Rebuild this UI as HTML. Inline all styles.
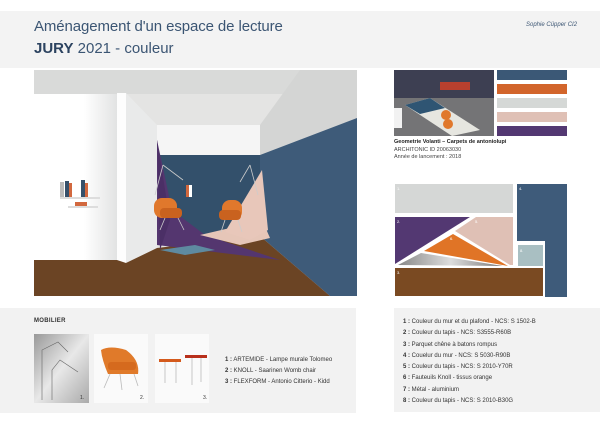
<!DOCTYPE html>
<html><head><meta charset="utf-8"><style>
html,body{margin:0;padding:0;background:#fff}
body{width:600px;height:424px;position:relative;overflow:hidden;font-family:"Liberation Sans",sans-serif}
.a{position:absolute}
</style></head><body>
<div class="a" style="left:0;top:11px;width:600px;height:57px;background:#f3f3f3"></div>
<div class="a" style="left:34px;top:18px;font-size:15px;color:#3b5573;white-space:nowrap;letter-spacing:-0.1px">Aménagement d'un espace de lecture</div>
<div class="a" style="left:34px;top:40px;font-size:15px;color:#3b5573;white-space:nowrap"><b style="color:#2c4360">JURY</b> 2021 - couleur</div>
<div class="a" style="left:526px;top:22px;font-size:6px;font-style:italic;color:#3b5573">Sophie Cüpper CI2</div>

<svg class="a" style="left:0;top:0" width="600" height="424">
<!-- render -->
<rect x="34" y="70" width="323" height="226" fill="#e4e4e3"/>
<rect x="34" y="70" width="323" height="24" fill="#d9dad9"/>
<polygon points="300,70 357,70 357,118 260,155 260,125" fill="#d4d5d4"/>
<defs><linearGradient id="w" x1="0" x2="1"><stop offset="0.6" stop-color="#fff"/><stop offset="1" stop-color="#e2e3e3"/></linearGradient>
<linearGradient id="m" x1="0" x2="1"><stop offset="0" stop-color="#888"/><stop offset="0.5" stop-color="#ddd"/><stop offset="1" stop-color="#777"/></linearGradient>
<linearGradient id="l" x1="0" y1="0" x2="1" y2="1"><stop offset="0" stop-color="#999"/><stop offset="0.5" stop-color="#e8e8e8"/><stop offset="1" stop-color="#aaa"/></linearGradient></defs>
<rect x="34" y="94" width="83" height="166" fill="url(#w)"/>
<polygon points="126,93 157,125 157,260 126,262" fill="#e9eaea"/>
<rect x="117" y="93" width="9" height="170" fill="#fdfdfd"/>
<rect x="157" y="125" width="103" height="30" fill="#f5f5f5"/>
<rect x="157" y="155" width="103" height="90" fill="#33506b"/>
<polygon points="260,155 357,118 357,296 330,296 260,236" fill="#3e5b79"/>
<polygon points="34,260 117,260 126,263 157,248 260,236 330,296 34,296" fill="#6b4424"/>
<polygon points="157,140 172,210 205,235 280,260 157,245" fill="#54366f"/>
<polygon points="200,235 230,228 260,215 270,238 240,245" fill="#e6c6b8"/>
<polygon points="262,170 268,230 250,240 225,232" fill="#e8c7ba"/>
<polygon points="160,250 195,245 215,250 185,255" fill="#5e8aa0"/>
<path d="M157,140 L170,220 L160,250 Z" fill="#4b2f66"/>
<g fill="#e0782c"><rect x="154" y="198" width="23" height="20" rx="8"/><rect x="160" y="208" width="22" height="10" rx="4" fill="#c9621f"/>
<rect x="222" y="200" width="20" height="20" rx="8"/><rect x="219" y="210" width="22" height="10" rx="4" fill="#c9621f"/></g>
<g stroke="#ccc" stroke-width="0.8"><line x1="165" y1="218" x2="160" y2="230"/><line x1="178" y1="218" x2="184" y2="230"/><line x1="225" y1="220" x2="221" y2="232"/><line x1="238" y1="220" x2="242" y2="232"/>
<line x1="163" y1="165" x2="183" y2="180"/><line x1="163" y1="165" x2="155" y2="195"/><line x1="250" y1="165" x2="240" y2="182"/><line x1="250" y1="165" x2="258" y2="195"/></g>
<rect x="60" y="197" width="40" height="2" fill="#ddd"/><rect x="68" y="206" width="30" height="2" fill="#ddd"/>
<rect x="60" y="182" width="4" height="15" fill="#bbb"/><rect x="65" y="181" width="4" height="16" fill="#36506a"/><rect x="69" y="183" width="3" height="14" fill="#d2683e"/><rect x="81" y="180" width="4" height="17" fill="#36506a"/><rect x="85" y="183" width="3" height="14" fill="#d2683e"/><rect x="75" y="202" width="12" height="4" fill="#d2683e"/>
<rect x="186" y="185" width="3" height="12" fill="#d2683e"/><rect x="189" y="185" width="3" height="12" fill="#fff"/>
<!-- palette photo -->
<rect x="394" y="70" width="100" height="66" fill="#3d3f52"/>
<rect x="394" y="98" width="100" height="38" fill="#747476"/>
<rect x="440" y="82" width="30" height="8" fill="#b8402e"/>
<polygon points="405,105 430,98 480,130 452,136" fill="#e6e6e0"/>
<polygon points="405,105 430,98 445,108 420,114" fill="#2f5573"/>
<circle cx="446" cy="115" r="5" fill="#e0782c"/>
<circle cx="448" cy="124" r="5" fill="#e0782c"/>
<rect x="394" y="108" width="8" height="20" fill="#f2f2f2"/>
<rect x="497" y="70" width="70" height="10" fill="#3b5876"/>
<rect x="497" y="84" width="70" height="10" fill="#d2652b"/>
<rect x="497" y="98" width="70" height="10" fill="#d5d8d6"/>
<rect x="497" y="112" width="70" height="10" fill="#dfc0b5"/>
<rect x="497" y="126" width="70" height="10" fill="#533872"/>
<!-- mood -->
<rect x="395" y="184" width="118" height="29" fill="#d5d7d6"/>
<rect x="517" y="184" width="50" height="113" fill="#3e5b7a"/>
<rect x="515" y="241" width="30" height="57" fill="#fff"/>
<rect x="518" y="245" width="25" height="21" fill="#a9bfc2"/>
<rect x="395" y="268" width="148" height="28" fill="#7a4a22"/>
<polygon points="395,217 470,217 395,264" fill="#533872"/>
<polygon points="476,217 513,217 513,265 510,265 455,231" fill="#dfc0b5"/>
<polygon points="453,234 424,251 508,266" fill="#e07426"/>
<polygon points="398,265 421,253 503,266" fill="url(#m)"/>
<!-- bottom -->
<rect x="0" y="308" width="356" height="105" fill="#f2f2f2"/>
<rect x="394" y="308" width="206" height="104" fill="#f2f2f2"/>
<rect x="34" y="334" width="55" height="69" fill="url(#l)"/>
<rect x="94" y="334" width="54" height="69" fill="#fafafa"/>
<rect x="155" y="334" width="54" height="69" fill="#fafafa"/>
<path d="M101,350 Q110,345 126,350 Q140,360 138,374 L108,374 Q102,360 101,350Z" fill="#e07a2a"/>
<rect x="108" y="362" width="28" height="8" rx="3" fill="#d56a1e"/>
<g stroke="#bbb" stroke-width="0.8"><line x1="110" y1="374" x2="104" y2="388"/><line x1="120" y1="374" x2="122" y2="390"/><line x1="134" y1="374" x2="138" y2="386"/>
<line x1="165" y1="362" x2="165" y2="383"/><line x1="176" y1="362" x2="176" y2="383"/><line x1="192" y1="358" x2="192" y2="385"/><line x1="201" y1="358" x2="201" y2="382"/></g>
<rect x="159" y="359" width="22" height="3" fill="#d45a1c"/>
<rect x="185" y="355" width="22" height="3" fill="#b8301c"/>
<g stroke="#666" stroke-width="0.6" fill="none"><path d="M42,400 L42,350 L58,342 L68,352"/><path d="M52,400 L52,370 L60,360 L78,372"/></g>
</svg>
<div class="a" style="left:394px;top:139px;font-size:5.5px;font-weight:bold;color:#222">Geometrie Volanti – Carpets de antoniolupi</div>
<div class="a" style="left:394px;top:147px;font-size:5.5px;color:#444;line-height:7px">ARCHITONIC ID 20063030<br>Année de lancement : 2018</div>
<div class="a" style="font-size:4px;color:#fff;left:397px;top:186px">1.</div>
<div class="a" style="font-size:4px;color:#fff;left:397px;top:219px">2.</div>
<div class="a" style="font-size:4px;color:#fff;left:397px;top:270px">3.</div>
<div class="a" style="font-size:4px;color:#fff;left:519px;top:186px">4.</div>
<div class="a" style="font-size:4px;color:#fff;left:475px;top:219px">5.</div>
<div class="a" style="font-size:4px;color:#fff;left:450px;top:236px">6.</div>
<div class="a" style="font-size:4px;color:#fff;left:520px;top:248px">8.</div>
<div class="a" style="left:34px;top:318px;font-size:6px;font-weight:bold;color:#333;letter-spacing:0.3px">MOBILIER</div>
<div class="a" style="left:80px;top:395px;font-size:5px;color:#333">1.</div>
<div class="a" style="left:140px;top:395px;font-size:5px;color:#333">2.</div>
<div class="a" style="left:203px;top:395px;font-size:5px;color:#333">3.</div>
<div class="a" style="left:225px;top:355px;font-size:6px;color:#333;line-height:11px;white-space:nowrap"><b>1 :</b> ARTEMIDE - Lampe murale Tolomeo<br><b>2 :</b> KNOLL - Saarinen Womb chair<br><b>3 :</b> FLEXFORM - Antonio Citterio - Kidd</div>
<div class="a" style="left:403px;top:317px;font-size:6px;color:#333;line-height:11.3px;white-space:nowrap"><b>1 :</b> Couleur du mur et du plafond - NCS: S 1502-B<br><b>2 :</b> Couleur du tapis - NCS: S3555-R60B<br><b>3 :</b> Parquet chêne à batons rompus<br><b>4 :</b> Couelur du mur - NCS: S 5030-R90B<br><b>5 :</b> Couleur du tapis - NCS: S 2010-Y70R<br><b>6 :</b> Fauteuils Knoll - tissus orange<br><b>7 :</b> Métal - aluminium<br><b>8 :</b> Couleur du tapis - NCS: S 2010-B30G</div>
</body></html>
